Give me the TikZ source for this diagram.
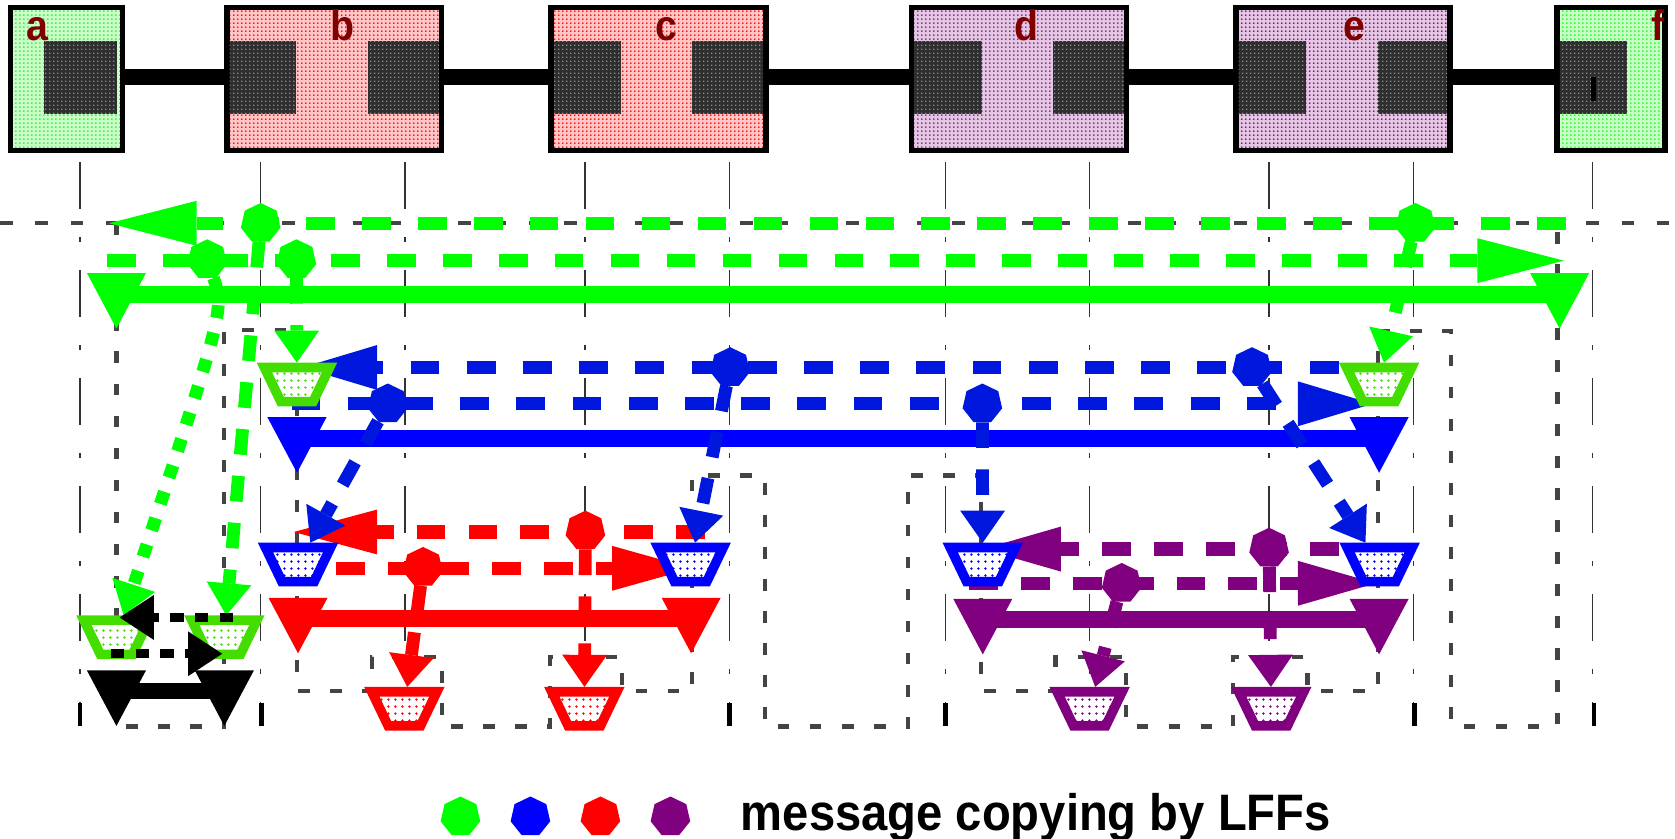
\documentclass[tikz,border=0pt]{standalone}
\usepackage{fontspec}
\usepackage{xcolor}
\usepackage{tikz}
\usetikzlibrary{positioning, arrows.meta, shapes.geometric, patterns.meta, backgrounds}

\newfontfamily\lblfont[FakeStretch=0.92]{Liberation Sans}

\definecolor{lgreen}{RGB}{0,255,0}
\definecolor{lgreenT}{RGB}{68,221,0}
\definecolor{lblue}{RGB}{0,0,255}
\definecolor{lblueD}{RGB}{0,24,222}
\definecolor{lred}{RGB}{255,0,0}
\definecolor{lpurple}{RGB}{128,0,128}
\definecolor{ringgray}{RGB}{68,68,68}
\definecolor{labelred}{RGB}{128,0,0}

\begin{document}
\begin{tikzpicture}[
    x=1pt, y=-1pt,
    node distance=30pt,
    segbox/.style={rectangle, draw, line width=5pt, minimum height=133.9pt, inner sep=0pt,
        preaction={fill=#1!22}, pattern={Dots[distance=4pt,radius=1pt]}, pattern color=#1},
    port/.style={preaction={fill=black!82}, pattern={Dots[distance=4pt,radius=0.8pt]}, pattern color=gray!60},
    seglabel/.style={text=labelred, font=\lblfont\bfseries\fontsize{40}{40}\selectfont, inner sep=0pt, anchor=base},
    segbar/.style={line width=15.5pt},
    lfftri/.style={isosceles triangle, isosceles triangle apex angle=56, shape border rotate=270,
        minimum width=52pt, minimum height=52pt, inner sep=0pt, fill=#1, anchor=apex},
    lffcell/.style={trapezium, shape border rotate=180, trapezium angle=63, trapezium stretches=true,
        minimum width=61pt, minimum height=32pt, inner sep=1pt, line width=9pt, draw=#1,
        preaction={fill=white}, pattern={Dots[distance=6.5pt,radius=1.2pt]}, pattern color=#1},
    copyblob/.style={regular polygon, regular polygon sides=7, minimum size=38pt, inner sep=0pt, fill=#1},
    levelbar/.style={draw=#1, line width=15.6pt},
    flowline/.style n args={3}{draw=#1, line width=12.5pt, dash pattern=on 27pt off #2,
        -{Triangle[length=#3, width=42pt, line width=0pt]}},
    copyarrow/.style={draw=#1, line width=12pt, dash pattern=on 24pt off 20pt,
        -{Triangle[length=30pt, width=42pt, line width=0pt]}},
    copydots/.style={draw=#1, line width=12pt, dash pattern=on 12pt off 14pt,
        -{Triangle[length=30pt, width=42pt, line width=0pt]}},
    kflow/.style={draw=black, line width=8.5pt, dash pattern=on 12.5pt off 10.5pt,
        -{Triangle[length=32pt, width=42pt, line width=0pt]}},
    ringline/.style={draw=ringgray, line width=4pt, dash pattern=on 11pt off 19pt},
    guide/.style={draw=black!80, line width=1.3pt, dash pattern=on 44pt off 26pt on 5pt off 26pt},
    legendtext/.style={font=\lblfont\bfseries\fontsize{48}{48}\selectfont, inner sep=0pt, anchor=base west}
]
\useasboundingbox (0,0) rectangle (1568,785);

% Segments
\node[segbox=lgreen, minimum width=104.5pt] (a) at (62.25,74.15) {};
\node[segbox=lred, minimum width=201pt] (b) at (313,74.15) {};
\node[segbox=lred, minimum width=201pt] (c) at (616.4,74.15) {};
\node[segbox=lpurple, minimum width=201pt] (d) at (954,74.15) {};
\node[segbox=lpurple, minimum width=200.4pt] (e) at (1257.3,74.15) {};
\node[segbox=lgreen, minimum width=101pt] (f) at (1508,74.15) {};
\foreach \xa/\xb in {40.8/109.7, 215/277.5, 344.4/411, 518.4/581.6, 648/714.4,
                     856/919.5, 985.6/1052, 1159.6/1222.7, 1289.7/1355, 1460/1522.6}
    \path[port] (\xa,38) rectangle (\xb,106.7);
\fill (1489.5,72) rectangle (1494,95);
\foreach \lbl/\xl in {a/35, b/321, c/624, d/961, e/1268, f/1552}
    \node[seglabel] (l\lbl) at (\xl,38) {\lbl};
\foreach \sa/\sb in {a/b, b/c, c/d, d/e, e/f}
    \draw[segbar] ([yshift=2pt]\sa.east) -- ([yshift=2pt]\sb.west);

% LFF levels
\node[lfftri=lgreen] (gtL) at (109,308) {};
\node[lfftri=lgreen] (gtR) at (1460,308) {};
\node[lfftri=lblue] (btL) at (278,443) {};
\node[lfftri=lblue] (btR) at (1291,443) {};
\node[lfftri=lred] (rtL) at (279,612) {};
\node[lfftri=lred] (rtR) at (647,612) {};
\node[lfftri=lpurple] (ptL) at (920,613) {};
\node[lfftri=lpurple] (ptR) at (1291,613) {};
\node[lfftri=black] (ktL) at (109,680) {};
\node[lfftri=black] (ktR) at (210,680) {};

\draw[levelbar=lgreen] ([yshift=32.5pt]gtL.apex) -- ([yshift=32.5pt]gtR.apex);
\draw[levelbar=lblue] ([yshift=32.5pt]btL.apex) -- ([yshift=32.5pt]btR.apex);
\draw[levelbar=lred] ([yshift=33pt]rtL.apex) -- ([yshift=33pt]rtR.apex);
\draw[levelbar=lpurple] ([yshift=33pt]ptL.apex) -- ([yshift=33pt]ptR.apex);
\draw[levelbar=black] ([yshift=33pt]ktL.apex) -- ([yshift=33pt]ktR.apex);

% LFF cells
\node[lffcell=lgreenT] (cg1) at (278,360) {};
\node[lffcell=lgreenT] (cg2) at (1291,360) {};
\node[lffcell=lgreenT] (cg3) at (109,596.5) {};
\node[lffcell=lgreenT] (cg4) at (210,596.5) {};
\node[lffcell=lblue] (cb1) at (279,528.5) {};
\node[lffcell=lblue] (cb2) at (646.5,528.5) {};
\node[lffcell=lblue] (cb3) at (920,528.5) {};
\node[lffcell=lblue] (cb4) at (1291.5,528.5) {};
\node[lffcell=lred] (cr1) at (378.5,663.5) {};
\node[lffcell=lred] (cr2) at (547,663.5) {};
\node[lffcell=lpurple] (cp1) at (1020,663.5) {};
\node[lffcell=lpurple] (cp2) at (1190,663.5) {};

% copy points
\node[copyblob=lgreen] (g1) at (244,209) {};
\node[copyblob=lgreen] (g2) at (194,243) {};
\node[copyblob=lgreen] (g3) at (277.5,243) {};
\node[copyblob=lgreen] (g4) at (1325,209) {};
\node[copyblob=lblueD] (b1) at (683.5,344) {};
\node[copyblob=lblueD] (b2) at (363,378) {};
\node[copyblob=lblueD] (b3) at (919.6,378) {};
\node[copyblob=lblueD] (b4) at (1172,344) {};
\node[copyblob=lred] (r1) at (396,531) {};
\node[copyblob=lred] (r2) at (548,497) {};
\node[copyblob=lpurple] (p1) at (1050,546) {};
\node[copyblob=lpurple] (p2) at (1188,513) {};

\draw[copyarrow=lgreen] (g1) -- (cg4);
\draw[copydots=lgreen] (g2) .. controls (210,290) .. (cg3);
\draw[copyarrow=lgreen] (g3) -- (cg1);
\draw[copyarrow=lgreen] (g4) -- (cg2);
\draw[copyarrow=lblueD] (b1) -- (cb2);
\draw[copyarrow=lblueD] (b2) -- (cb1);
\draw[copyarrow=lblueD] (b3) -- (cb3);
\draw[copyarrow=lblueD] (b4) -- (cb4);
\draw[copyarrow=lred] (r1) -- (cr1);
\draw[copyarrow=lred] (r2) -- (cr2);
\draw[copyarrow=lpurple] (p1) -- (cp1);
\draw[copyarrow=lpurple] (p2) -- (cp2);

% lowest level
\coordinate (k1a) at (218,578);
\coordinate (k1b) at (112,578);
\coordinate (k2a) at (104,612);
\coordinate (k2b) at (208,612);
\draw[kflow] (k1a) -- (k1b);
\draw[kflow] (k2a) -- (k2b);

\begin{pgfonlayer}{background}
\foreach \gx in {75, 244, 379, 547.6, 683, 885, 1020, 1188, 1323, 1491}
    \draw[guide] (\gx,152) -- (\gx,680);
\foreach \gx in {75, 245, 683, 885, 1324, 1492}
    \draw[line width=4.3pt] (\gx,658) -- (\gx,680);

% ring
\draw[ringline, dash pattern=on 12pt off 21pt] (0,209) -- (1562,209);
\draw[ringline] (109,209) -- (109,680) -- (210,680) -- (210,309) -- (278,309)
    -- (278,647) -- (348,647) -- (348,615) -- (414,615) -- (414,680) -- (515,680)
    -- (515,615) -- (582,615) -- (582,647) -- (648,647) -- (648,445) -- (716,445)
    -- (716,680) -- (850,680) -- (850,445) -- (918,445) -- (918,647) -- (988,647)
    -- (988,615) -- (1054,615) -- (1054,680) -- (1154,680) -- (1154,615) -- (1224,615)
    -- (1224,647) -- (1290,647) -- (1290,310) -- (1358,310) -- (1358,680) -- (1458,680)
    -- (1458,209);

% level messages
\coordinate (gA1) at (1466,209); \coordinate (gA2) at (102,209);
\coordinate (gB1) at (100,244);  \coordinate (gB2) at (1464,244);
\coordinate (bA1) at (1253,344); \coordinate (bA2) at (283,344);
\coordinate (bB1) at (273,378);  \coordinate (bB2) at (1285,378);
\coordinate (rA1) at (660,498);  \coordinate (rA2) at (275,498);
\coordinate (rB1) at (266,532);  \coordinate (rB2) at (648,532);
\coordinate (pA1) at (1253,514); \coordinate (pA2) at (920,514);
\coordinate (pB1) at (907,546);  \coordinate (pB2) at (1288,546);
\draw[flowline={lgreen}{25.4pt}{82pt}] (gA1) -- (gA2);
\draw[flowline={lgreen}{25.4pt}{81pt}] (gB1) -- (gB2);
\draw[flowline={lblueD}{25.6pt}{70pt}] (bA1) -- (bA2);
\draw[flowline={lblueD}{25.6pt}{70pt}] (bB1) -- (bB2);
\draw[flowline={lred}{21.6pt}{78pt}] (rA1) -- (rA2);
\draw[flowline={lred}{21.6pt}{75pt}] (rB1) -- (rB2);
\draw[flowline={lpurple}{21.6pt}{73pt}] (pA1) -- (pA2);
\draw[flowline={lpurple}{21.6pt}{73pt}] (pB1) -- (pB2);
\end{pgfonlayer}

% legend
\node[copyblob=lgreen] (key1) at (431,764.6) {};
\node[copyblob=lblue, right=of key1] (key2) {};
\node[copyblob=lred, right=of key2] (key3) {};
\node[copyblob=lpurple, right=of key3] (key4) {};
\node[legendtext] (keytext) at (693.4,777.7) {message copying by LFFs};

\end{tikzpicture}
\end{document}
